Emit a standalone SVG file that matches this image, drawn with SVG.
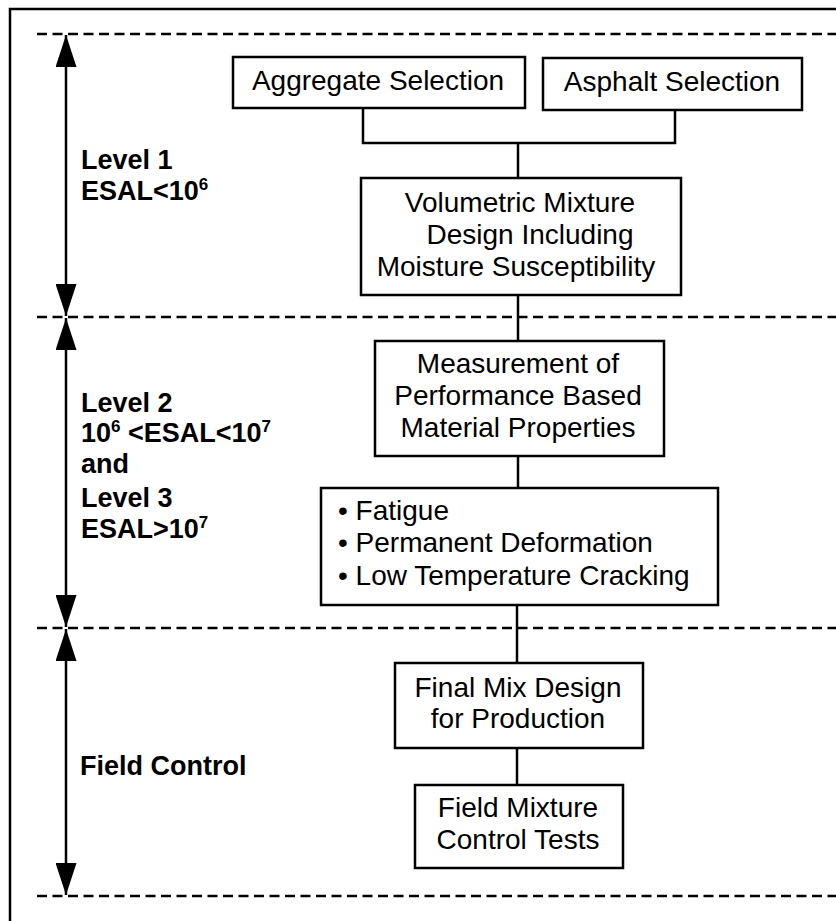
<svg xmlns="http://www.w3.org/2000/svg" width="836" height="921" viewBox="0 0 836 921">
<style>
.box{fill:#fff;stroke:#000;stroke-width:2.5}
.t{font-family:"Liberation Sans",Arial,sans-serif;font-size:28px;fill:#000}
.c{text-anchor:middle}
.lbl{font-family:"Liberation Sans",Arial,sans-serif;font-size:27px;font-weight:bold;fill:#000}
.sup{font-size:17px}
.dash{stroke:#000;stroke-width:2.5;stroke-dasharray:10 5.5;fill:none}
.conn{stroke:#000;stroke-width:2.5;fill:none}
.arr{stroke:#000;stroke-width:2.5;fill:none;marker-start:url(#ah);marker-end:url(#ah)}
</style>
<defs>
<marker id="ah" viewBox="0 0 32 21" refX="32" refY="10.5" markerWidth="32" markerHeight="21" markerUnits="userSpaceOnUse" orient="auto-start-reverse">
<path d="M0,0 L32,10.5 L0,21 z" fill="#000"/>
</marker>
</defs>
<rect width="836" height="921" fill="#fff"/>
<g id="frame">
<path d="M10,925 V9 H838" fill="none" stroke="#000" stroke-width="2.5"/>
</g>
<g id="level-dividers">
<line class="dash" x1="37" y1="34" x2="836" y2="34"/>
<line class="dash" x1="37" y1="317" x2="836" y2="317"/>
<line class="dash" x1="37" y1="628" x2="836" y2="628"/>
<line class="dash" x1="37" y1="896" x2="836" y2="896"/>
</g>
<g id="level-arrows">
<line class="arr" x1="66" y1="35" x2="66" y2="316"/>
<line class="arr" x1="66" y1="318" x2="66" y2="627"/>
<line class="arr" x1="66" y1="629" x2="66" y2="895"/>
</g>
<g id="connectors">
<path class="conn" d="M363,108 V143 H675 V110"/>
<line class="conn" x1="518" y1="143" x2="518" y2="178"/>
<line class="conn" x1="518" y1="295" x2="518" y2="341"/>
<line class="conn" x1="518" y1="456" x2="518" y2="488"/>
<line class="conn" x1="517" y1="605" x2="517" y2="663"/>
<line class="conn" x1="517" y1="748" x2="517" y2="785"/>
</g>
<g id="label-level1">
<text class="lbl" x="81" y="169">Level 1</text>
<text class="lbl" x="81" y="200">ESAL&lt;10<tspan class="sup" dy="-10">6</tspan></text>
</g>
<g id="label-level23">
<text class="lbl" x="81" y="412">Level 2</text>
<text class="lbl" x="81" y="442">10<tspan class="sup" dy="-10">6</tspan><tspan dy="10"> &lt;ESAL&lt;10</tspan><tspan class="sup" dy="-10">7</tspan></text>
<text class="lbl" x="81" y="473">and</text>
<text class="lbl" x="81" y="507">Level 3</text>
<text class="lbl" x="81" y="538">ESAL&gt;10<tspan class="sup" dy="-10">7</tspan></text>
</g>
<g id="label-field">
<text class="lbl" x="80" y="775">Field Control</text>
</g>
<g id="aggregate-selection">
<rect class="box" x="233" y="57" width="292" height="51"/>
<text class="t c" x="378" y="90">Aggregate Selection</text>
</g>
<g id="asphalt-selection">
<rect class="box" x="543" y="58" width="259" height="52"/>
<text class="t c" x="672" y="91">Asphalt Selection</text>
</g>
<g id="volumetric-design">
<rect class="box" x="361" y="178" width="320" height="117"/>
<text class="t c" x="520" y="212">Volumetric Mixture</text>
<text class="t c" x="530" y="244">Design Including</text>
<text class="t c" x="516" y="276">Moisture Susceptibility</text>
</g>
<g id="performance-properties">
<rect class="box" x="375" y="341" width="289" height="115"/>
<text class="t c" x="518" y="373">Measurement of</text>
<text class="t c" x="518" y="405">Performance Based</text>
<text class="t c" x="518" y="437">Material Properties</text>
</g>
<g id="distress-list">
<rect class="box" x="321" y="488" width="397" height="117"/>
<text class="t" x="338" y="520">• Fatigue</text>
<text class="t" x="338" y="552">• Permanent Deformation</text>
<text class="t" x="338" y="585">• Low Temperature Cracking</text>
</g>
<g id="final-mix-design">
<rect class="box" x="395" y="663" width="248" height="85"/>
<text class="t c" x="518" y="697">Final Mix Design</text>
<text class="t c" x="518" y="728">for Production</text>
</g>
<g id="field-control-tests">
<rect class="box" x="415" y="785" width="208" height="83"/>
<text class="t c" x="518" y="817">Field Mixture</text>
<text class="t c" x="518" y="849">Control Tests</text>
</g>
</svg>
